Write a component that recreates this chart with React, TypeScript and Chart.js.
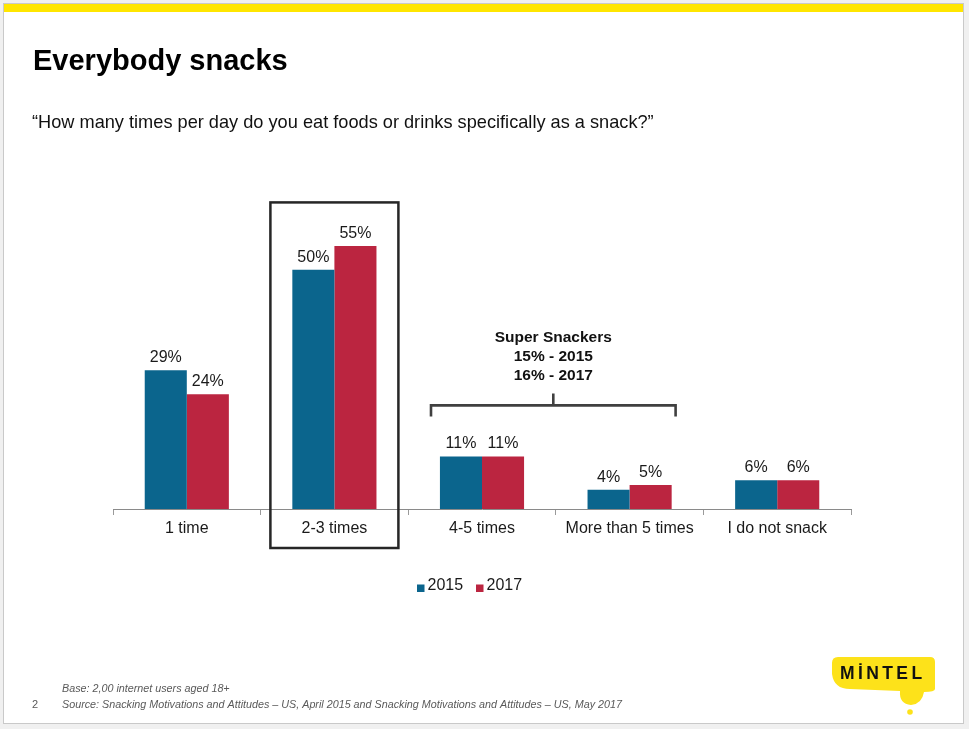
import React, { useEffect, useRef } from "react";
import { Chart, registerables } from "chart.js";

Chart.register(...registerables);

// Snacking frequency, share of respondents (%)
const categories = ["1 time", "2-3 times", "4-5 times", "More than 5 times", "I do not snack"];
const seriesLabels = ["2015", "2017"];
const values2015 = [29, 50, 11, 4, 6];
const values2017 = [24, 55, 11, 5, 6];
const seriesColors = ["#0b658d", "#bb2540"];

const titleText = "Everybody snacks";
const questionText = "\u201CHow many times per day do you eat foods or drinks specifically as a snack?\u201D";
const calloutLines = ["Super Snackers", "15% - 2015", "16% - 2017"];
const baseNote = "Base: 2,00 internet users aged 18+";
const sourceNote =
  "Source: Snacking Motivations and Attitudes \u2013 US, April 2015 and Snacking Motivations and Attitudes \u2013 US, May 2017";
const pageNumber = "2";
const brand = "M\u0130NTEL";

const FONT = "'Liberation Sans', Arial, sans-serif";

const slidePlugin = {
  id: "slide",
  beforeDraw(chart: any) {
    const ctx = chart.ctx;
    const W = chart.width;
    const H = chart.height;
    ctx.save();
    ctx.fillStyle = "#f0f0f0";
    ctx.fillRect(0, 0, W, H);
    ctx.fillStyle = "#ffffff";
    ctx.fillRect(3, 3, 960, 720);
    ctx.strokeStyle = "#c9c9c9";
    ctx.lineWidth = 1;
    ctx.strokeRect(3.5, 3.5, 960, 720);
    // yellow band along the top
    ctx.fillStyle = "#ffe600";
    ctx.fillRect(4, 4, 959, 8);
    ctx.restore();
  },
  afterDraw(chart: any) {
    const ctx = chart.ctx;
    const xs = chart.scales.x;
    const ys = chart.scales.y;
    const area = chart.chartArea;
    ctx.save();

    // heading
    ctx.fillStyle = "#000000";
    ctx.textAlign = "left";
    ctx.textBaseline = "alphabetic";
    ctx.font = `bold 29px ${FONT}`;
    ctx.fillText(titleText, 33, 70);
    ctx.font = `18.2px ${FONT}`;
    ctx.fillStyle = "#111111";
    ctx.fillText(questionText, 32, 128);

    // value labels above each bar
    ctx.font = `16px ${FONT}`;
    ctx.fillStyle = "#1a1a1a";
    ctx.textAlign = "center";
    chart.data.datasets.forEach((ds: any, di: number) => {
      const meta = chart.getDatasetMeta(di);
      meta.data.forEach((bar: any, i: number) => {
        ctx.fillText(`${ds.data[i]}%`, bar.x, bar.y - 8);
      });
    });

    // highlight frame around "2-3 times"
    const cx = xs.getPixelForValue(1);
    const frameTop = ys.getPixelForValue(55) - 43.5;
    ctx.strokeStyle = "#262626";
    ctx.lineWidth = 2.5;
    ctx.strokeRect(cx - 64, frameTop, 128, area.bottom + 39 - frameTop);

    // bracket grouping "4-5 times" and "More than 5 times"
    const bx1 = xs.getPixelForValue(2) - 51;
    const bx2 = xs.getPixelForValue(3) + 46;
    const by = ys.getPixelForValue(11) - 51;
    const bmid = (bx1 + bx2) / 2;
    ctx.strokeStyle = "#404040";
    ctx.lineWidth = 2.6;
    ctx.beginPath();
    ctx.moveTo(bx1, by + 11);
    ctx.lineTo(bx1, by);
    ctx.lineTo(bx2, by);
    ctx.lineTo(bx2, by + 11);
    ctx.moveTo(bmid, by);
    ctx.lineTo(bmid, by - 12);
    ctx.stroke();

    ctx.fillStyle = "#111111";
    ctx.font = `bold 15.5px ${FONT}`;
    ctx.textBaseline = "middle";
    calloutLines.forEach((t, i) => ctx.fillText(t, bmid, by - 68 + i * 19));

    // legend
    ctx.textAlign = "left";
    ctx.font = `16px ${FONT}`;
    const legendX = [417, 476];
    seriesLabels.forEach((lab, i) => {
      ctx.fillStyle = seriesColors[i];
      ctx.fillRect(legendX[i], 584.5, 7.5, 7.5);
      ctx.fillStyle = "#1a1a1a";
      ctx.fillText(lab, legendX[i] + 10.5, 586);
    });

    // footnotes
    ctx.fillStyle = "#595959";
    ctx.font = `italic 10.75px ${FONT}`;
    ctx.textBaseline = "middle";
    ctx.fillText(baseNote, 62, 689);
    ctx.fillText(sourceNote, 62, 705);
    ctx.font = `11px ${FONT}`;
    ctx.fillText(pageNumber, 32, 705);

    // brand mark
    ctx.fillStyle = "#fde21a";
    ctx.beginPath();
    ctx.moveTo(838, 657);
    ctx.lineTo(930, 657);
    ctx.quadraticCurveTo(935, 657, 935, 662);
    ctx.lineTo(935, 689);
    ctx.quadraticCurveTo(935, 692, 924, 692);
    ctx.quadraticCurveTo(922, 704, 911, 705);
    ctx.quadraticCurveTo(899, 704, 900, 691);
    ctx.lineTo(850, 689);
    ctx.quadraticCurveTo(834, 689, 832, 674);
    ctx.lineTo(832, 663);
    ctx.quadraticCurveTo(832, 657, 838, 657);
    ctx.closePath();
    ctx.fill();
    ctx.beginPath();
    ctx.arc(910, 712, 2.8, 0, Math.PI * 2);
    ctx.fill();

    ctx.fillStyle = "#111111";
    ctx.font = `bold 17.5px ${FONT}`;
    (ctx as any).letterSpacing = "3.4px";
    ctx.textAlign = "left";
    ctx.fillText(brand, 840, 674);
    (ctx as any).letterSpacing = "0px";

    ctx.restore();
  },
};

export default function App() {
  const canvasRef = useRef<HTMLCanvasElement | null>(null);

  useEffect(() => {
    if (!canvasRef.current) return;
    const chart = new Chart(canvasRef.current, {
      type: "bar",
      data: {
        labels: categories,
        datasets: [
          { label: seriesLabels[0], data: values2015, backgroundColor: seriesColors[0] },
          { label: seriesLabels[1], data: values2017, backgroundColor: seriesColors[1] },
        ],
      },
      options: {
        responsive: false,
        animation: false,
        layout: { padding: { left: 113, right: 118, top: 222, bottom: 190 } },
        datasets: { bar: { categoryPercentage: 0.57, barPercentage: 1 } },
        plugins: {
          legend: { display: false },
          title: { display: false },
          tooltip: { enabled: false },
        },
        scales: {
          x: {
            afterFit: (s: any) => {
              s.height = 30;
            },
            grid: {
              offset: true,
              drawOnChartArea: false,
              drawTicks: true,
              tickLength: 6,
              color: "#9a9a9a",
            },
            border: { color: "#8a8a8a", width: 1 },
            ticks: {
              color: "#1a1a1a",
              font: { family: FONT, size: 16 },
              padding: 4,
              maxRotation: 0,
              autoSkip: false,
            },
          },
          y: { display: false, min: 0, max: 60 },
        },
      },
      plugins: [slidePlugin],
    });
    return () => chart.destroy();
  }, []);

  return (
    <div style={{ position: "fixed", left: 0, top: 0, width: 969, height: 729 }}>
      <canvas ref={canvasRef} width={969} height={729} style={{ display: "block" }} />
    </div>
  );
}
